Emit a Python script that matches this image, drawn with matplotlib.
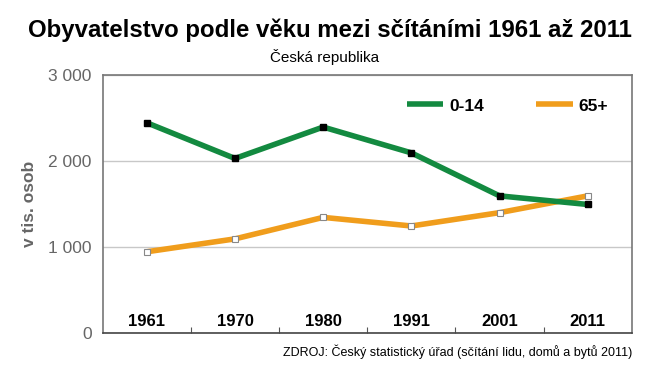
import numpy as np
import matplotlib
matplotlib.use("Agg")
from matplotlib import pyplot as plt
from matplotlib.lines import Line2D

# data
years = ["1961", "1970", "1980", "1991", "2001", "2011"]
deti = [2445, 2030, 2395, 2095, 1595, 1495]      # 0-14
senior = [945, 1095, 1345, 1245, 1400, 1595]     # 65+
yticks = [0, 1000, 2000, 3000]
ytick_labels = ["0", "1 000", "2 000", "3 000"]

green = "#138a40"
orange = "#f09d1c"

plt.rcParams['font.family'] = ['Liberation Sans', 'DejaVu Sans']

fig = plt.figure(figsize=(6.5, 3.66), dpi=100)
ax = fig.add_axes([0.158, 0.090, 0.814, 0.705])

x = np.arange(len(years))
ax.plot(x, deti, color=green, lw=4, solid_capstyle='butt', zorder=3)
ax.plot(x, deti, ls='none', marker='s', ms=5, mfc='black', mec='black', zorder=4)
ax.plot(x, senior, color=orange, lw=4, solid_capstyle='butt', zorder=2)
ax.plot(x, senior, ls='none', marker='s', ms=5, mfc='white', mec='#888888', mew=0.8, zorder=4)

ax.set_xlim(-0.5, len(years) - 0.5)
ax.set_ylim(0, 3000)
ax.set_yticks(yticks)
ax.set_yticklabels(ytick_labels)
ax.tick_params(axis='y', length=0, pad=8, labelsize=12.5, labelcolor='#666666')
ax.yaxis.grid(True, color='#c8c8c8', lw=1)
ax.set_axisbelow(True)

# categories as text inside, ticks between categories
ax.set_xticks(x[:-1] + 0.5)
ax.set_xticklabels([])
ax.tick_params(axis='x', direction='in', length=4, color='#555555')
for i, yr in enumerate(years):
    ax.text(i, 130, yr, ha='center', va='center', fontsize=12, fontweight='bold')

for s in ['top', 'right', 'left']:
    ax.spines[s].set_color('#777777')
    ax.spines[s].set_linewidth(1.2)
ax.spines['bottom'].set_color('#444444')
ax.spines['bottom'].set_linewidth(1.2)

ax.set_ylabel("v tis. osob", fontsize=12.5, fontweight='bold', color='#666666', labelpad=8)

handles = [Line2D([], [], color=green, lw=4, solid_capstyle='butt'),
           Line2D([], [], color=orange, lw=4, solid_capstyle='butt')]
ax.legend(handles, ["0-14", "65+"], loc='upper right', bbox_to_anchor=(0.985, 0.97),
          ncol=2, frameon=False, handlelength=2.1, handletextpad=0.35, columnspacing=3.0,
          prop={'weight': 'bold', 'size': 12.5})

fig.text(0.507, 0.918, "Obyvatelstvo podle věku mezi sčítáními 1961 až 2011",
         ha='center', va='center', fontsize=17.3, fontweight='bold')
fig.text(0.5, 0.845, "Česká republika", ha='center', va='center', fontsize=11)
fig.text(0.972, 0.04, "ZDROJ: Český statistický úřad (sčítání lidu, domů a bytů 2011)",
         ha='right', va='center', fontsize=9)

fig.savefig("out.png", dpi=100)
